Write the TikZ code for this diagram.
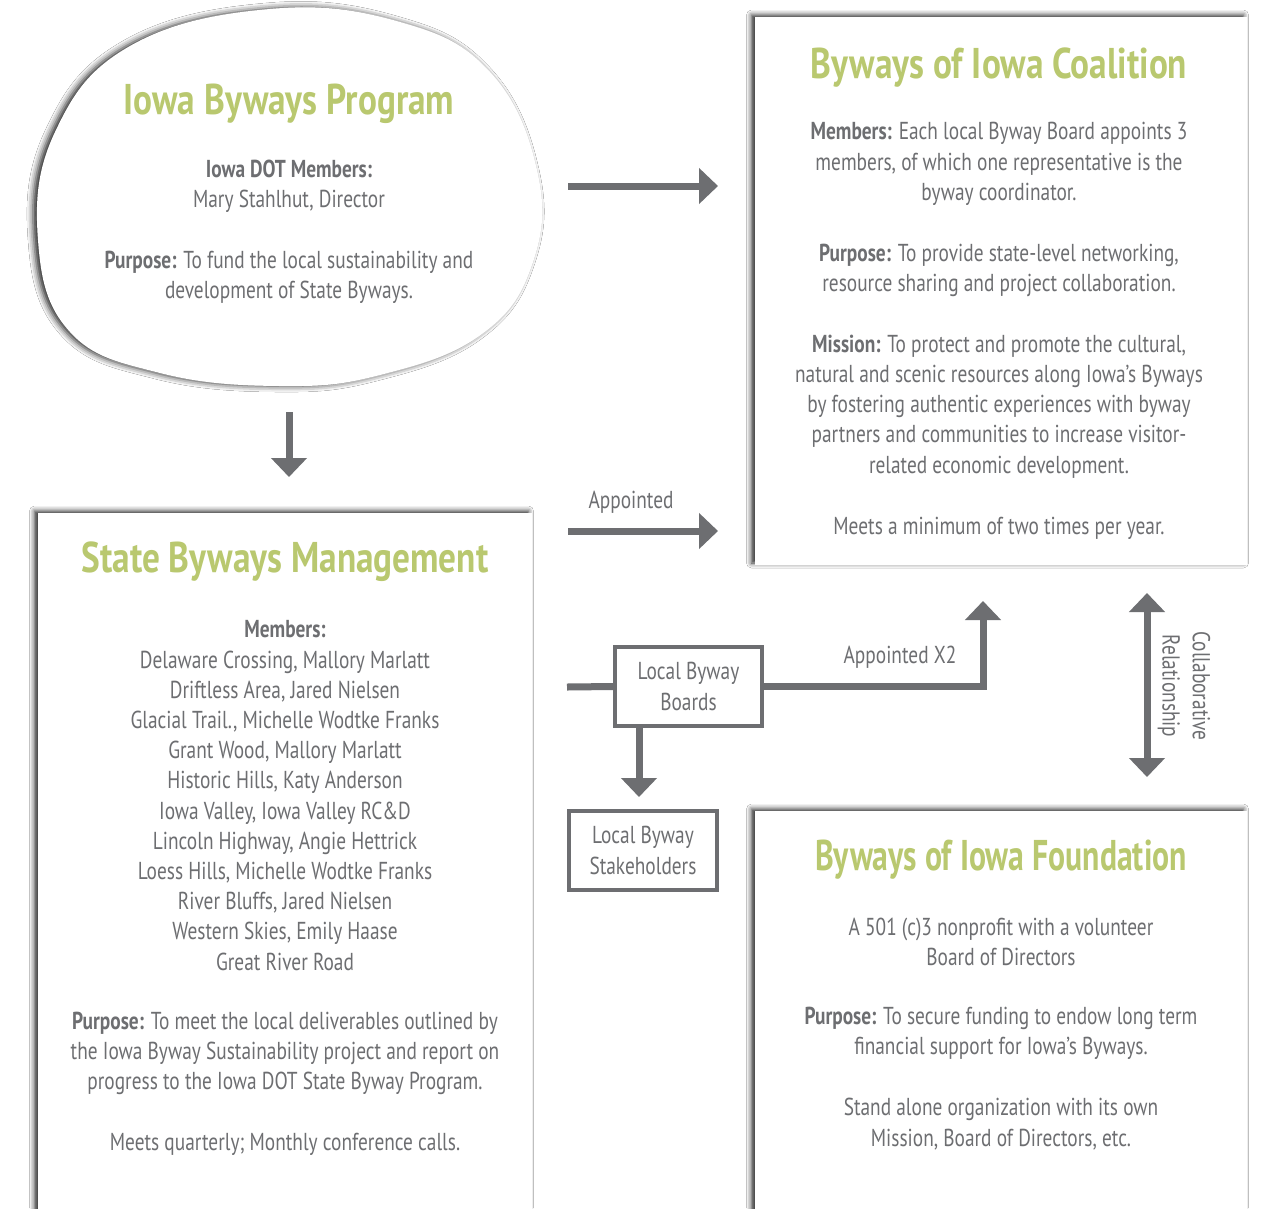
\documentclass[tikz,border=0pt]{standalone}
\usepackage{fontspec}
\usepackage{graphicx}
\setmainfont{PT Sans}[FakeStretch=0.79]
\newfontfamily\ttlfont{PT Sans}[FakeStretch=0.82]
\usetikzlibrary{arrows.meta,shadows.blur}
\definecolor{txtgray}{HTML}{6D6E71}
\definecolor{ttlgreen}{HTML}{B9C86F}
\begin{document}
\begin{tikzpicture}[x=1pt,y=-1pt,
  body/.style={text=txtgray, font=\fontsize{24.5}{30.2}\selectfont, align=center, inner sep=0pt},
  ttl/.style={text=ttlgreen, font=\ttlfont\fontsize{43}{46}\selectfont\bfseries, inner sep=0pt},
  bigbox/.style={fill=white, inner sep=0pt, blur shadow={shadow xshift=-3.5pt, shadow yshift=2pt, shadow blur radius=5pt, shadow opacity=85}},
  smallbox/.style={body, draw=txtgray, line width=4pt, fill=white},
  conn/.style={draw=txtgray, line width=7pt},
  arr/.style={conn, -{Triangle[width=35pt,length=19pt]}},
  darr/.style={conn, {Triangle[width=35pt,length=19pt]}-{Triangle[width=35pt,length=19pt]}},
]
\clip (0,0) rectangle (1268,1208);
\fill[white] (0,0) rectangle (1268,1208);

% blob
\path[fill=white, blur shadow={shadow xshift=-4pt, shadow yshift=0pt, shadow blur radius=6pt, shadow opacity=85}]
  plot[smooth cycle, tension=0.7] coordinates {(270,9) (400,22) (490,72) (537,170) (533,262) (482,334) (380,375) (280,386) (160,373) (70,332) (38,240) (55,132) (130,46)};
\node[ttl] (t1) at (289,104) {Iowa Byways Program};
\node[body] (p1a) at (289,186) {\textbf{Iowa DOT Members:}\\Mary Stahlhut, Director};
\node[body] (p1b) at (289,277) {\textbf{Purpose:} To fund the local sustainability and\\development of State Byways.};

% coalition
\node[bigbox, minimum width=492pt, minimum height=548pt] (coal) at (1001,291) {};
\node[ttl] (t2) at (999,68) {Byways of Iowa Coalition};
\node[body] (c1) at (999,164) {\textbf{Members:} Each local Byway Board appoints 3\\members, of which one representative is the\\byway coordinator.};
\node[body] (c2) at (999,270) {\textbf{Purpose:} To provide state-level networking,\\resource sharing and project collaboration.};
\node[body] (c3) at (999,406.5) {\textbf{Mission:} To protect and promote the cultural,\\natural and scenic resources along Iowa’s Byways\\by fostering authentic experiences with byway\\partners and communities to increase visitor-\\related economic development.};
\node[body] (c4) at (999,528) {Meets a minimum of two times per year.};

% management
\node[bigbox, minimum width=494pt, minimum height=740pt] (mgmt) at (285,883) {};
\node[ttl] (t3) at (285,562) {State Byways Management};
\node[body] (m1) at (285,795.5) {\textbf{Members:}\\Delaware Crossing, Mallory Marlatt\\Driftless Area, Jared Nielsen\\Glacial Trail., Michelle Wodtke Franks\\Grant Wood, Mallory Marlatt\\Historic Hills, Katy Anderson\\Iowa Valley, Iowa Valley RC\&D\\Lincoln Highway, Angie Hettrick\\Loess Hills, Michelle Wodtke Franks\\River Bluffs, Jared Nielsen\\Western Skies, Emily Haase\\Great River Road};
\node[body] (m2) at (285,1053.5) {\textbf{Purpose:} To meet the local deliverables outlined by\\the Iowa Byway Sustainability project and report on\\progress to the Iowa DOT State Byway Program.};
\node[body] (m3) at (285,1144) {Meets quarterly; Monthly conference calls.};

% foundation
\node[bigbox, minimum width=492pt, minimum height=440pt] (fdn) at (1001,1031) {};
\node[ttl] (t4) at (1001,860) {\scalebox{0.9}[1]{Byways of Iowa Foundation}};
\node[body] (f1) at (1001,942) {A 501 (c)3 nonprofit with a volunteer\\Board of Directors};
\node[body] (f2) at (1001,1033) {\textbf{Purpose:} To secure funding to endow long term\\financial support for Iowa’s Byways.};
\node[body] (f3) at (1001,1124) {Stand alone organization with its own\\Mission, Board of Directors, etc.};

% small boxes
\node[smallbox, minimum width=147pt, minimum height=79pt] (boards) at (688.5,686.5) {Local Byway\\Boards};
\node[smallbox, minimum width=148pt, minimum height=79pt] (stake) at (643,850.5) {Local Byway\\Stakeholders};

% connector end points
\coordinate (a1s) at (568,186);
\coordinate (a1e) at (718,186);
\coordinate (a2s) at (289,412);
\coordinate (a2e) at (289,477);
\coordinate (a3s) at (568,531);
\coordinate (a3e) at (718,531);
\coordinate (bl) at (567,687);
\coordinate (x2tip) at (983,601);
\coordinate (dtip) at (639,797);
\coordinate (ctop) at (1147,593);
\coordinate (cbot) at (1147,777);

\draw[arr] (a1s) -- (a1e);
\draw[arr] (a2s) -- (a2e);
\draw[arr] (a3s) -- (a3e);
\draw[conn] (bl) -- (boards.west);
\draw[arr] (boards.east) -| (x2tip);
\draw[arr] (boards.south -| dtip) -- (dtip);
\draw[darr] (ctop) -- (cbot);

\node[body] (lab1) at (631,502) {Appointed};
\node[body] (lab2) at (900,657) {Appointed X2};
\node[body, rotate=-90] (lab3) at (1184,686) {Collaborative\\Relationship};
\end{tikzpicture}
\end{document}
